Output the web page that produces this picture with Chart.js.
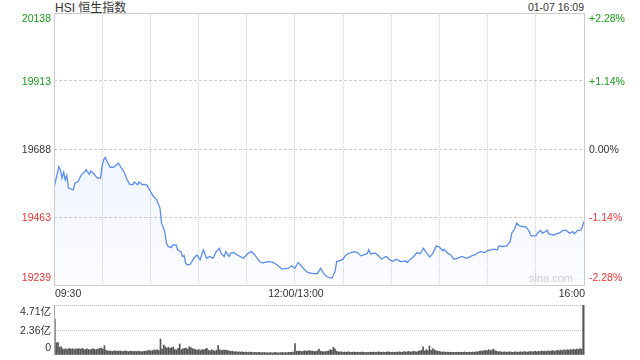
<!DOCTYPE html>
<html>
<head>
<meta charset="utf-8">
<script src="https://cdn.jsdelivr.net/npm/chart.js@4/dist/chart.umd.min.js"></script>
<style>
  body { margin: 0; background: #fff; width: 640px; height: 360px; overflow: hidden; position: relative;
         font-family: "Liberation Sans", Arial, "Noto Sans CJK SC", sans-serif; color: #333; }
  canvas { position: absolute; left: 0; }
  #priceChart { top: 0; }
  #volChart { top: 300px; }
  .title { position: absolute; left: 55px; top: 0; font-size: 12px; line-height: 16px; }
  .stamp { position: absolute; right: 56px; top: 0; font-size: 10.5px; line-height: 14px; }
</style>
</head>
<body>
<div class="title">HSI 恒生指数</div>
<div class="stamp">01-07 16:09</div>
<canvas id="priceChart" width="640" height="300"></canvas>
<canvas id="volChart" width="640" height="60"></canvas>
<script>
// Intraday data (minutes since 09:30, lunch break removed)
const minutes = [
  0, 3, 4, 5, 6, 7, 8, 9, 12, 13, 15, 17, 19, 20, 22, 23, 25, 27, 29, 30,
  31, 32, 33, 35, 37, 39, 40, 42, 44, 45, 47, 49, 50, 52, 53, 55, 56, 58, 60, 62,
  64, 66, 67, 69, 70, 71, 73, 74, 76, 77, 79, 80, 81, 82, 83, 85, 87, 89, 91, 93,
  95, 97, 99, 101, 103, 104, 106, 107, 109, 110, 112, 114, 118, 121, 123, 125, 128, 130, 133, 136,
  139, 142, 146, 148, 150, 152, 154, 156, 158, 161, 164, 166, 168, 170, 173, 175, 176, 178, 180, 181,
  183, 185, 187, 189, 191, 193, 195, 196, 197, 200, 202, 204, 206, 207, 209, 211, 213, 216, 219, 220,
  222, 224, 226, 228, 230, 232, 234, 236, 238, 240, 242, 243, 245, 247, 249, 251, 254, 257, 260, 262,
  264, 266, 268, 270, 272, 274, 276, 277, 279, 282, 284, 285, 287, 288, 290, 292, 294, 296, 297, 300,
  301, 303, 304, 306, 307, 308, 311, 313, 315, 317, 319, 321, 323, 324, 326, 328, 329, 330
];
const prices = [
  19559, 19630, 19620, 19592, 19612, 19586, 19601, 19559, 19553, 19575, 19581, 19603, 19612, 19620, 19605, 19616, 19605, 19592, 19592, 19636,
  19653, 19660, 19647, 19628, 19628, 19636, 19642, 19625, 19609, 19592, 19572, 19570, 19579, 19570, 19579, 19570, 19572, 19568, 19548, 19531,
  19520, 19493, 19443, 19415, 19377, 19366, 19362, 19371, 19371, 19355, 19349, 19333, 19336, 19311, 19305, 19308, 19327, 19338, 19322, 19355,
  19327, 19333, 19327, 19349, 19360, 19344, 19333, 19349, 19333, 19344, 19346, 19338, 19327, 19344, 19349, 19338, 19316, 19311, 19316, 19314,
  19305, 19291, 19294, 19302, 19294, 19313, 19302, 19289, 19280, 19276, 19276, 19294, 19276, 19265, 19261, 19283, 19316, 19319, 19324, 19333,
  19342, 19346, 19349, 19346, 19335, 19338, 19342, 19355, 19342, 19344, 19335, 19324, 19331, 19333, 19322, 19316, 19324, 19316, 19318, 19313,
  19324, 19333, 19346, 19342, 19360, 19344, 19331, 19344, 19368, 19364, 19352, 19357, 19344, 19338, 19324, 19327, 19333, 19327, 19335, 19338,
  19346, 19349, 19346, 19352, 19355, 19357, 19355, 19368, 19366, 19368, 19382, 19410, 19426, 19443, 19434, 19432, 19430, 19415, 19401, 19401,
  19410, 19419, 19410, 19415, 19420, 19408, 19404, 19408, 19412, 19419, 19419, 19410, 19415, 19408, 19419, 19420, 19432, 19449
];
// volume per minute, in 亿
const volumes = [
  3.39, 1.16, 1.16, 0.72, 0.78, 0.56, 0.55, 0.58, 0.52, 0.63,
  0.55, 0.60, 0.52, 0.58, 0.56, 0.60, 0.53, 0.62, 0.55, 0.50,
  0.58, 0.52, 0.48, 0.55, 0.60, 0.50, 0.52, 0.56, 0.62, 0.66,
  0.55, 0.88, 0.45, 0.40, 0.38, 0.36, 0.34, 0.40, 0.38, 0.35,
  0.36, 0.38, 0.33, 0.36, 0.38, 0.34, 0.32, 0.36, 0.35, 0.33,
  0.35, 0.32, 0.36, 0.34, 0.31, 0.33, 0.36, 0.38, 0.40, 0.44,
  0.38, 0.42, 0.46, 0.45, 0.50, 0.42, 1.51, 0.56, 0.94, 0.78,
  0.66, 0.72, 0.63, 0.70, 0.75, 0.50, 0.48, 0.62, 1.04, 0.50,
  0.58, 0.62, 0.66, 0.55, 0.78, 0.70, 0.60, 0.56, 0.50, 0.45,
  0.52, 0.42, 0.50, 0.48, 0.56, 0.62, 0.45, 0.40, 0.50, 0.42,
  0.38, 0.45, 0.88, 0.50, 0.42, 0.46, 0.48, 0.44, 0.42, 0.38,
  0.34, 0.36, 0.30, 0.32, 0.28, 0.30, 0.27, 0.29, 0.25, 0.28,
  0.26, 0.24, 0.28, 0.25, 0.22, 0.24, 0.23, 0.22, 0.25, 0.21,
  0.22, 0.24, 0.20, 0.22, 0.21, 0.23, 0.20, 0.22, 0.24, 0.21,
  0.20, 0.22, 0.24, 0.21, 0.23, 0.22, 0.25, 0.24, 0.26, 0.28,
  1.07, 0.36, 0.34, 0.38, 0.32, 0.35, 0.40, 0.36, 0.38, 0.42,
  0.36, 0.38, 0.32, 0.34, 0.40, 0.56, 0.36, 0.32, 0.30, 0.33,
  0.34, 0.38, 0.50, 0.45, 0.72, 0.55, 0.36, 0.30, 0.28, 0.30,
  0.26, 0.28, 0.25, 0.30, 0.27, 0.24, 0.26, 0.28, 0.25, 0.27,
  0.24, 0.26, 0.28, 0.25, 0.23, 0.26, 0.24, 0.27, 0.25, 0.28,
  0.26, 0.24, 0.30, 0.27, 0.25, 0.28, 0.24, 0.26, 0.30, 0.28,
  0.25, 0.27, 0.24, 0.28, 0.26, 0.30, 0.27, 0.25, 0.32, 0.28,
  0.30, 0.34, 0.28, 0.30, 0.36, 0.32, 0.28, 0.35, 0.40, 0.45,
  0.78, 0.38, 0.50, 0.42, 0.85, 0.45, 0.60, 0.50, 0.42, 0.36,
  0.35, 0.30, 0.28, 0.30, 0.26, 0.28, 0.25, 0.27, 0.26, 0.24,
  0.26, 0.25, 0.27, 0.24, 0.26, 0.25, 0.28, 0.24, 0.26, 0.27,
  0.25, 0.28, 0.26, 0.30, 0.28, 0.34, 0.38, 0.36, 0.42, 0.45,
  0.40, 0.50, 0.42, 0.46, 0.55, 0.40, 0.36, 0.30, 0.32, 0.28,
  0.27, 0.30, 0.26, 0.28, 0.30, 0.27, 0.25, 0.28, 0.30, 0.26,
  0.28, 0.30, 0.27, 0.32, 0.30, 0.28, 0.30, 0.33, 0.29, 0.32,
  0.34, 0.30, 0.36, 0.32, 0.38, 0.34, 0.36, 0.33, 0.40, 0.36,
  0.38, 0.42, 0.36, 0.40, 0.45, 0.40, 0.46, 0.42, 0.48, 0.44,
  0.50, 0.46, 0.52, 0.48, 0.55, 0.50, 0.56, 0.52, 0.60, 0.55,
  4.71
];

const priceMin = 19238.6;
const priceMax = 20138;
const leftLabels = ['19239', '19463', '19688', '19913', '20138'];
const rightLabels = ['-2.28%', '-1.14%', '0.00%', '+1.14%', '+2.28%'];
const timeTicks = [0, 150, 330];
const timeLabels = ['09:30', '12:00/13:00', '16:00'];
const volMax = 4.71;
const volLabels = ['0', '2.36亿', '4.71亿'];

const FONT = '10.5px "Liberation Sans", Arial, "Noto Sans CJK SC", sans-serif';
const UP = '#1a9a1a', DOWN = '#ee3333', FLAT = '#333';

// frame + axis text for the price panel
const priceText = {
  id: 'priceText',
  afterDraw(chart) {
    const { ctx, chartArea: a, scales: { x, y } } = chart;
    ctx.save();
    ctx.strokeStyle = '#cccccc';
    ctx.lineWidth = 1;
    ctx.strokeRect(a.left + 0.5, a.top + 0.5, a.right - a.left, a.bottom - a.top);

    ctx.font = FONT;
    ctx.textBaseline = 'middle';
    const n = y.ticks.length;
    y.ticks.forEach((t, i) => {
      const py = y.getPixelForValue(t.value) + (i === 0 ? -7 : i === n - 1 ? 6 : 1);
      const r = rightLabels[i];
      ctx.fillStyle = r[0] === '+' ? UP : r[0] === '-' ? DOWN : FLAT;
      ctx.textAlign = 'right';
      ctx.fillText(leftLabels[i], a.left - 3, py);
      ctx.textAlign = 'left';
      ctx.fillText(r, a.right + 5, py);
    });

    ctx.fillStyle = '#333';
    timeTicks.forEach((m, i) => {
      ctx.textAlign = i === 0 ? 'left' : i === timeTicks.length - 1 ? 'right' : 'center';
      ctx.fillText(timeLabels[i], x.getPixelForValue(m) + 1, a.bottom + 9);
    });

    ctx.fillStyle = '#cdcdcd';
    ctx.font = '11px "Liberation Sans", Arial, sans-serif';
    ctx.textAlign = 'right';
    ctx.fillText('sina.com', a.right - 11, a.bottom - 6);
    ctx.restore();
  }
};

new Chart(document.getElementById('priceChart'), {
  type: 'line',
  data: {
    datasets: [{
      data: minutes.map((m, i) => ({ x: m, y: prices[i] })),
      borderColor: '#5b8def',
      borderWidth: 1.3,
      pointRadius: 0,
      tension: 0,
      fill: 'start',
      backgroundColor: (c) => {
        const a = c.chart.chartArea;
        if (!a) return 'rgba(90,140,240,0.08)';
        const g = c.chart.ctx.createLinearGradient(0, a.top, 0, a.bottom);
        g.addColorStop(0, 'rgba(90,140,240,0.17)');
        g.addColorStop(1, 'rgba(90,140,240,0.02)');
        return g;
      }
    }]
  },
  options: {
    responsive: false,
    animation: false,
    layout: { padding: { left: 54, right: 56, top: 13, bottom: 15 } },
    plugins: { legend: { display: false }, tooltip: { enabled: false } },
    scales: {
      x: {
        type: 'linear', min: 0, max: 330,
        ticks: { display: false, stepSize: 30 },
        grid: { color: '#d2d2d2', drawTicks: false },
        border: { display: false, dash: [1, 1] }
      },
      y: {
        min: priceMin, max: priceMax,
        afterBuildTicks: (s) => {
          s.ticks = leftLabels.map((_, i) => ({ value: priceMin + i * (priceMax - priceMin) / (leftLabels.length - 1) }));
        },
        ticks: { display: false },
        grid: { color: '#cccccc', drawTicks: false },
        border: { display: false, dash: [3, 2] }
      }
    }
  },
  plugins: [priceText]
});

// frame + axis text for the volume panel
const volText = {
  id: 'volText',
  afterDraw(chart) {
    const { ctx, chartArea: a, scales: { y } } = chart;
    ctx.save();
    ctx.strokeStyle = '#aaaaaa';
    ctx.lineWidth = 1;
    ctx.beginPath();
    ctx.moveTo(a.left + 0.5, a.top);
    ctx.lineTo(a.left + 0.5, a.bottom);
    ctx.moveTo(a.right + 0.5, a.top);
    ctx.lineTo(a.right + 0.5, a.bottom);
    ctx.stroke();

    ctx.font = FONT;
    ctx.textBaseline = 'middle';
    ctx.textAlign = 'right';
    ctx.fillStyle = '#333';
    const n = y.ticks.length;
    y.ticks.forEach((t, i) => {
      const py = y.getPixelForValue(t.value) + (i === 0 ? -7 : i === n - 1 ? 7 : 1);
      ctx.fillText(volLabels[i], a.left - 3, py);
    });
    ctx.restore();
  }
};

new Chart(document.getElementById('volChart'), {
  type: 'bar',
  data: {
    datasets: [{
      data: volumes.map((v, i) => ({ x: i, y: v })),
      backgroundColor: '#555555',
      barThickness: 1
    }]
  },
  options: {
    responsive: false,
    animation: false,
    layout: { padding: { left: 54, right: 56, top: 5, bottom: 5 } },
    plugins: { legend: { display: false }, tooltip: { enabled: false } },
    scales: {
      x: {
        type: 'linear', min: -0.5, max: 330.5, offset: false,
        display: false
      },
      y: {
        min: 0, max: volMax,
        afterBuildTicks: (s) => {
          s.ticks = volLabels.map((_, i) => ({ value: i * volMax / (volLabels.length - 1) }));
        },
        ticks: { display: false },
        grid: { color: (c) => (c.index === 0 ? 'rgba(0,0,0,0)' : '#bbbbbb'), drawTicks: false },
        border: { display: false, dash: [1, 1] }
      }
    }
  },
  plugins: [volText]
});
</script>
</body>
</html>
